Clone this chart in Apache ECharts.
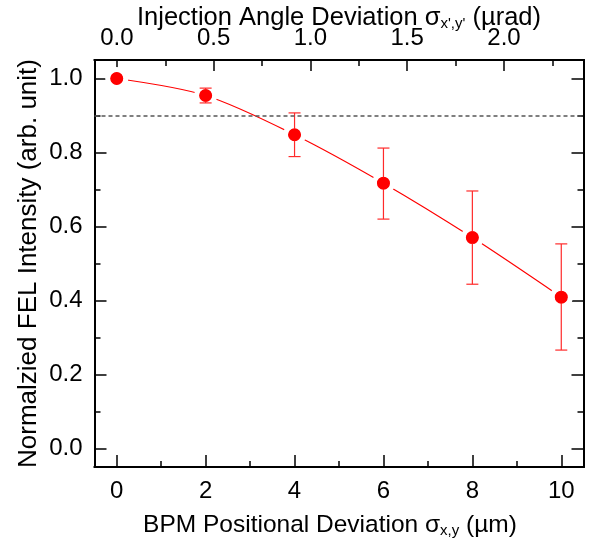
<!DOCTYPE html>
<html>
<head>
<meta charset="utf-8">
<script src="https://cdn.jsdelivr.net/npm/echarts@6/dist/echarts.min.js"></script>
<style>
html,body{margin:0;padding:0;background:#fff;}
#chart{width:593px;height:543px;}
</style>
</head>
<body>
<div id="chart"></div>
<script>
// ---- data ----
const bpmDeviation = [0, 2, 4, 6, 8, 10];
const felIntensity = [1.0, 0.954, 0.848, 0.717, 0.570, 0.409];
const errLower = [1.0, 0.934, 0.789, 0.620, 0.444, 0.266];
const errUpper = [1.0, 0.974, 0.907, 0.812, 0.696, 0.553];
const thresholdLevel = 0.9;

// ---- ticks ----
const bottomMajorTicks = [0, 2, 4, 6, 8, 10];
const bottomMinorTicks = [1, 3, 5, 7, 9];
const topMajorTicks = [0, 0.5, 1.0, 1.5, 2.0];
const topMinorTicks = [0.25, 0.75, 1.25, 1.75, 2.25];
const yMajorTicks = [0, 0.2, 0.4, 0.6, 0.8, 1.0];
const yMinorTicks = [0.1, 0.3, 0.5, 0.7, 0.9];

const FONT = 'Liberation Sans';
const black = '#000';

function axisCommon(extra) {
  return Object.assign({
    type: 'value',
    splitLine: {show: false},
    nameMoveOverlap: false,
    axisLine: {show: true, onZero: false, lineStyle: {color: black, width: 2}}
  }, extra);
}

const chart = echarts.init(document.getElementById('chart'), null, {renderer: 'canvas'});

function subRich(size) {
  return {
    t: {fontFamily: FONT, fontSize: size, color: black, lineHeight: size + 2},
    s: {fontFamily: FONT, fontSize: 15, color: black, verticalAlign: 'bottom', lineHeight: 15, padding: [14, 0, 0, 0]}
  };
}

const option = {
  animation: false,
  backgroundColor: '#fff',
  grid: {left: 94.5, right: 9.5, top: 60, bottom: 76, containLabel: false, outerBoundsMode: 'none'},
  xAxis: [
    axisCommon({
      position: 'bottom', min: -0.5, max: 10.5,
      axisTick: {show: true, inside: true, length: 12, lineStyle: {color: black, width: 1.5}, customValues: bottomMajorTicks},
      axisLabel: {show: true, margin: 12, fontFamily: FONT, fontSize: 24, color: black, customValues: bottomMajorTicks},
      name: '{t|BPM Positional Deviation σ}{s|x,y}{t| (µm)}',
      nameLocation: 'middle', nameGap: 44.5,
      nameTextStyle: {rich: subRich(24.5), padding: [0, 18, 0, 0]}
    }),
    axisCommon({
      position: 'bottom', min: -0.5, max: 10.5,
      axisTick: {show: true, inside: true, length: 6, lineStyle: {color: black, width: 1.5}, customValues: bottomMinorTicks},
      axisLabel: {show: false}
    }),
    axisCommon({
      position: 'top', min: -0.1158, max: 2.411,
      axisTick: {show: true, inside: true, length: 11, lineStyle: {color: black, width: 1.5}, customValues: topMajorTicks},
      axisLabel: {show: true, margin: 10, fontFamily: FONT, fontSize: 24, color: black, customValues: topMajorTicks,
        formatter: v => Number(v).toFixed(1)},
      name: "{t|Injection Angle Deviation σ}{s|x',y'}{t| (µrad)}",
      nameLocation: 'middle', nameGap: 28.5,
      nameTextStyle: {rich: subRich(25.5)}
    }),
    axisCommon({
      position: 'top', min: -0.1158, max: 2.411,
      axisTick: {show: true, inside: true, length: 6, lineStyle: {color: black, width: 1.5}, customValues: topMinorTicks},
      axisLabel: {show: false}
    })
  ],
  yAxis: [
    axisCommon({
      position: 'left', min: -0.05, max: 1.05,
      axisTick: {show: true, inside: true, length: 12, lineStyle: {color: black, width: 1.5}, customValues: yMajorTicks},
      axisLabel: {show: true, margin: 12, fontFamily: FONT, fontSize: 24, color: black, customValues: yMajorTicks,
        formatter: v => Number(v).toFixed(1)},
      name: 'Normalzied FEL Intensity (arb. unit)',
      nameLocation: 'middle', nameGap: 53,
      nameTextStyle: {fontFamily: FONT, fontSize: 26, color: black}
    }),
    axisCommon({
      position: 'left', min: -0.05, max: 1.05,
      axisTick: {show: true, inside: true, length: 6, lineStyle: {color: black, width: 1.5}, customValues: yMinorTicks},
      axisLabel: {show: false}
    }),
    axisCommon({
      position: 'right', min: -0.05, max: 1.05,
      axisTick: {show: true, inside: true, length: 12, lineStyle: {color: black, width: 1.5}, customValues: yMajorTicks},
      axisLabel: {show: false}
    }),
    axisCommon({
      position: 'right', min: -0.05, max: 1.05,
      axisTick: {show: true, inside: true, length: 6, lineStyle: {color: black, width: 1.5}, customValues: yMinorTicks},
      axisLabel: {show: false}
    })
  ],
  series: [
    {
      type: 'line', xAxisIndex: 0, yAxisIndex: 0, z: 2,
      data: bpmDeviation.map((x, i) => [x, felIntensity[i]]),
      smooth: 0.3, showSymbol: false,
      lineStyle: {color: '#ff0000', width: 1.2},
      markLine: {
        silent: true, symbol: ['none', 'none'], label: {show: false},
        lineStyle: {color: '#555', width: 1.5, type: [4, 3]},
        data: [{yAxis: thresholdLevel}]
      }
    },
    {
      type: 'scatter', xAxisIndex: 0, yAxisIndex: 0, z: 3,
      data: bpmDeviation.map((x, i) => [x, felIntensity[i]]),
      symbol: 'circle', symbolSize: 18,
      itemStyle: {color: '#ff0000', borderColor: '#fff', borderWidth: 5, opacity: 1}
    },
    {
      type: 'custom', xAxisIndex: 0, yAxisIndex: 0, z: 4,
      data: bpmDeviation.map((x, i) => [x, errLower[i], errUpper[i]]),
      renderItem: function (params, api) {
        const x = api.value(0);
        const lo = api.coord([x, api.value(1)]);
        const hi = api.coord([x, api.value(2)]);
        if (Math.abs(lo[1] - hi[1]) < 0.5) return null;
        const hw = 6;
        const style = {stroke: '#ff2a2a', lineWidth: 1.2, fill: null};
        return {
          type: 'group',
          children: [
            {type: 'line', shape: {x1: lo[0], y1: lo[1], x2: hi[0], y2: hi[1]}, style: style},
            {type: 'line', shape: {x1: hi[0] - hw, y1: hi[1], x2: hi[0] + hw, y2: hi[1]}, style: style},
            {type: 'line', shape: {x1: lo[0] - hw, y1: lo[1], x2: lo[0] + hw, y2: lo[1]}, style: style}
          ]
        };
      }
    },
    {
      type: 'scatter', xAxisIndex: 0, yAxisIndex: 0, z: 5,
      data: bpmDeviation.map((x, i) => [x, felIntensity[i]]),
      symbol: 'circle', symbolSize: 12,
      itemStyle: {color: '#ff0000', opacity: 1}
    }
  ]
};
chart.setOption(option);
</script>
</body>
</html>
